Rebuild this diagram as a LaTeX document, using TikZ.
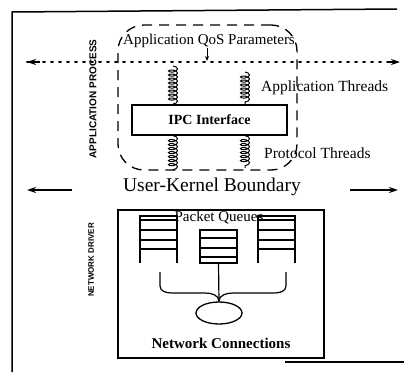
\documentclass[tikz,border=0pt]{standalone}
\usepackage{fontspec}
\setmainfont{Liberation Serif}
\setsansfont{Liberation Sans}
\usetikzlibrary{arrows.meta,decorations.pathmorphing,shapes.geometric}
\tikzset{
  frameline/.style={line width=1.5pt},
  label/.style={inner sep=0pt, font=\fontsize{15.5}{17}\selectfont},
  sidelabel/.style={inner sep=0pt, rotate=90, font=\sffamily\bfseries},
  dotline/.style={line width=2pt, dash pattern=on 2pt off 6pt, line cap=round},
  bigarrow/.style={line width=1.5pt, -{Stealth[length=9pt,width=6pt]}},
  smallarrow/.style={line width=1pt, -{Stealth[length=5pt,width=4pt]}},
  dashbox/.style={draw, line width=1.3pt, dash pattern=on 10pt off 7pt, rounded corners=26pt, inner sep=0pt},
  solidbox/.style={draw, line width=1.3pt, inner sep=0pt},
  spring/.style={line width=1pt, decorate, decoration={coil, aspect=0.45, amplitude=4.5pt, segment length=4pt}},
  qline/.style={line width=1.2pt},
}
\begin{document}
\begin{tikzpicture}[x=1pt, y=-1pt]
\useasboundingbox (0,0) rectangle (404,372);

% outer frame
\draw[frameline] (12,372) -- (12,12) -- (397,9);
\draw[line width=1.2pt] (285,362) -- (404,362);

% user process region
\node[dashbox, minimum width=179pt, minimum height=145pt] (proc) at (207.5,97.5) {};
\node[label, font=\fontsize{15}{17}\selectfont] (qos) at (209,41) {Application QoS Parameters};
\coordinate (dl) at (27,62);
\coordinate (dr) at (400,62);
\draw[dotline] (dl) -- (dr);
\draw[bigarrow] (40,62) -- (dl);
\draw[bigarrow] (388,62) -- (dr);
\draw[smallarrow] (qos.south -| 207,0) -- (207,61);

\node[sidelabel, font=\sffamily\bfseries\fontsize{10}{12}\selectfont] (app) at (93,99) {APPLICATION PROCESS};

\node[solidbox, minimum width=155pt, minimum height=30pt, font=\bfseries\fontsize{14}{16}\selectfont] (ipc) at (209.5,120) {IPC Interface};

% thread springs above and below the interface
\coordinate (lt) at (173,66);
\coordinate (rt) at (245,72);
\coordinate (lb) at (173,170);
\coordinate (rb) at (245,168);
\draw[spring] (lt) -- (ipc.north -| lt);
\draw[spring] (rt) -- (ipc.north -| rt);
\draw[spring] (ipc.south -| lb) -- (lb);
\draw[spring] (ipc.south -| rb) -- (rb);

\node[label, anchor=west] (at) at (261,88) {Application Threads};
\node[label, anchor=west] (pt) at (264,153) {Protocol Threads};

% user-kernel boundary
\node[inner sep=0pt, font=\fontsize{19.5}{21}\selectfont] (ukb) at (212,187) {User-Kernel Boundary};
\coordinate (ul) at (27,190);
\coordinate (ur) at (398,190);
\draw[bigarrow] (72,190) -- (ul);
\draw[bigarrow] (350,190) -- (ur);

% network driver
\node[sidelabel, font=\sffamily\bfseries\fontsize{8}{10}\selectfont] (nd) at (91,260) {NETWORK DRIVER};
\node[solidbox, minimum width=206pt, minimum height=148pt] (drv) at (221,284) {};
\node[label, font=\fontsize{15}{17}\selectfont] (pq) at (219,218) {Packet Queues};

% left queue
\draw[qline] (140,263) -- (140,216) -- (177,216) -- (177,263);
\draw[qline] (140,220) -- (177,220);
\draw[qline] (140,230) -- (177,230);
\draw[qline] (140,240) -- (177,240);
\draw[qline] (140,249) -- (177,249);
% middle queue
\node[solidbox, minimum width=37pt, minimum height=33pt] (mq) at (218.5,246.5) {};
\draw[qline] (mq.west |- 0,238) -- (mq.east |- 0,238);
\draw[qline] (mq.west |- 0,248) -- (mq.east |- 0,248);
\draw[qline] (mq.west |- 0,257) -- (mq.east |- 0,257);
% right queue
\draw[qline] (258,263) -- (258,216) -- (295,216) -- (295,263);
\draw[qline] (258,220) -- (295,220);
\draw[qline] (258,230) -- (295,230);
\draw[qline] (258,240) -- (295,240);
\draw[qline] (258,249) -- (295,249);

% connections fan-in
\node[draw, ellipse, line width=1.3pt, minimum width=46pt, minimum height=22pt, inner sep=0pt] (nc) at (219,313) {};
\draw[qline] (mq.south) -- (nc.north);
\draw[qline] (160,272) -- (160,286) to[out=-90,in=180] (172,293) -- (205,293) to[out=0,in=90] (nc.north);
\draw[qline] (286,272) -- (286,286) to[out=-90,in=0] (274,293) -- (233,293) to[out=180,in=90] (nc.north);
\node[inner sep=0pt, font=\bfseries\fontsize{15}{17}\selectfont] (ncl) at (221,343) {Network Connections};
\end{tikzpicture}
\end{document}
